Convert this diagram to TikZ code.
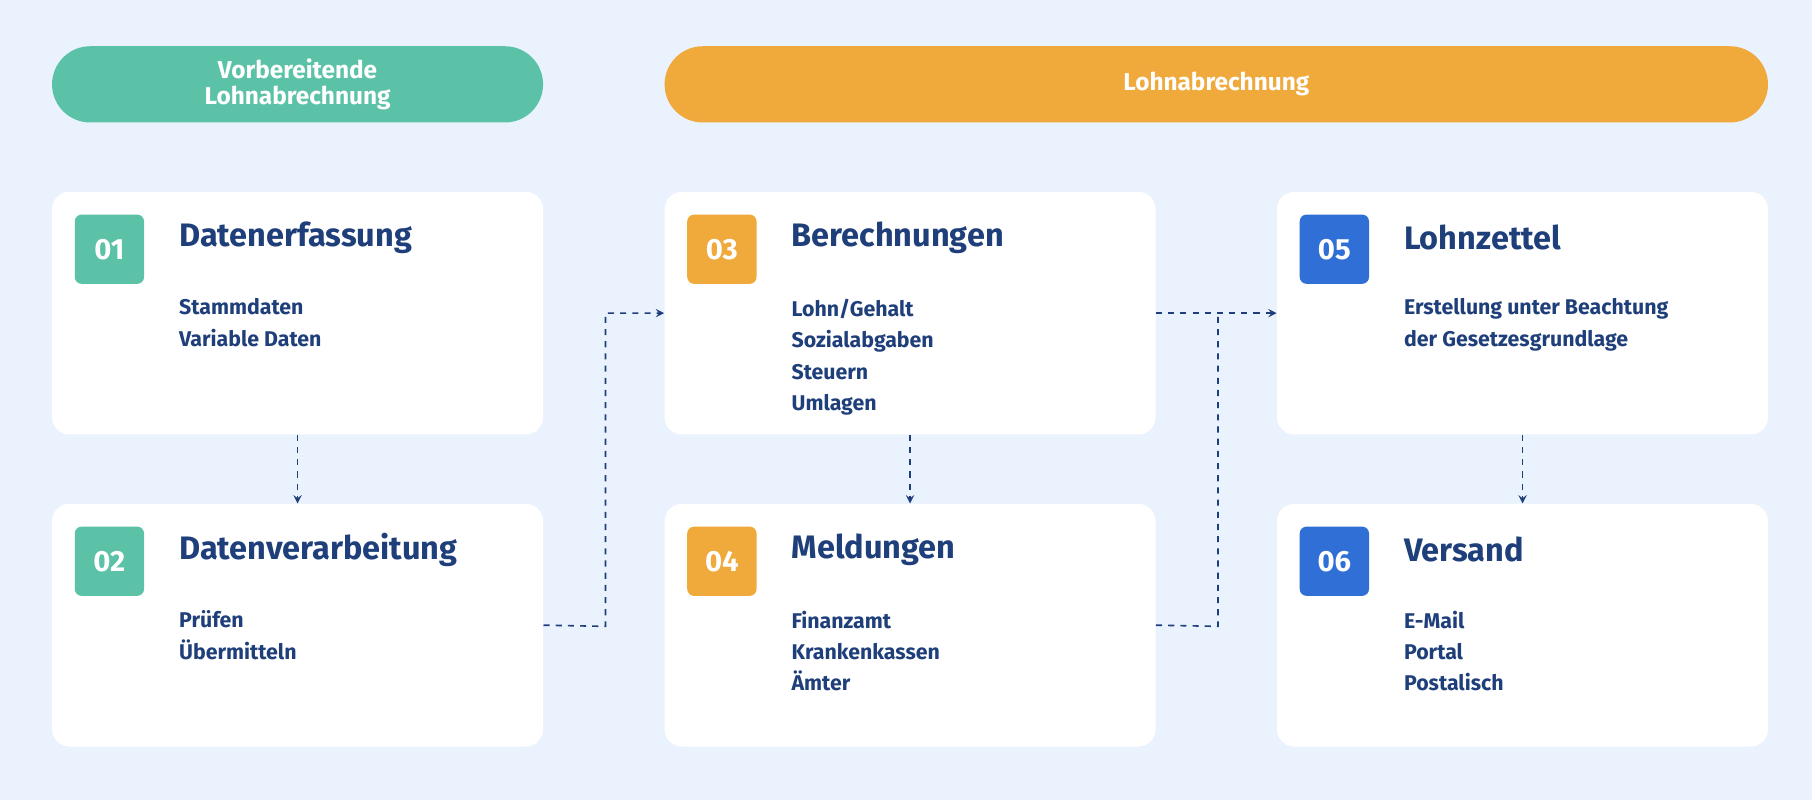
\documentclass[tikz,border=0pt]{standalone}
\usepackage{fontspec}
\setmainfont{Fira Sans}
\usetikzlibrary{positioning}
\definecolor{bgblue}{HTML}{EAF2FD}
\definecolor{mint}{HTML}{5BC2A7}
\definecolor{amber}{HTML}{F0A93B}
\definecolor{royal}{HTML}{2F6FD6}
\definecolor{navy}{HTML}{1F3F7A}
\tikzset{>=stealth,
  pill/.style={rounded corners=0.66cm, text=white, font=\bfseries\large, align=center, inner sep=0pt},
  card/.style={fill=white, rounded corners=0.3cm, minimum width=8.5cm, minimum height=4.2cm, inner sep=0pt},
  badge/.style={rounded corners=0.12cm, minimum size=1.2cm, text=white, font=\bfseries\Large, inner sep=0pt},
  heading/.style={anchor=west, text=navy, font=\bfseries\fontsize{16}{19}\selectfont, inner sep=0pt},
  items/.style={anchor=north west, text=navy, align=left, font=\fontsize{10.5}{15.5}\selectfont\bfseries, inner sep=0pt},
  flow/.style={->, dashed, navy, thick}}
\begin{document}
\begin{tikzpicture}[x=0.02cm, y=-0.02cm]
    \fill[bgblue] (0,0) rectangle (1568,692);
    \node[pill, fill=mint, minimum width=8.5cm, minimum height=1.32cm] (prep) at (257.5,73) {Vorbereitende\\[-1pt]Lohnabrechnung};
    \node[pill, fill=amber, minimum width=19.1cm, minimum height=1.32cm] (main) at (1052.5,73) {Lohnabrechnung};
    % cards: name/x/y/colour/number/title/items
    \foreach \n/\x/\y/\c/\num/\ttl/\txt in {
      c1/257.5/271/mint/01/Datenerfassung/{Stammdaten\\Variable Daten},
      c2/257.5/541/mint/02/Datenverarbeitung/{Prüfen\\Übermitteln},
      c3/787.5/271/amber/03/Berechnungen/{Lohn/Gehalt\\Sozialabgaben\\Steuern\\Umlagen},
      c4/787.5/541/amber/04/Meldungen/{Finanzamt\\Krankenkassen\\Ämter},
      c5/1317.5/271/royal/05/Lohnzettel/{Erstellung unter Beachtung\\der Gesetzesgrundlage},
      c6/1317.5/541/royal/06/Versand/{E-Mail\\Portal\\Postalisch}} {
      \node[card] (\n) at (\x,\y) {};
      \node[badge, fill=\c] (\n b) at ([xshift=1cm,yshift=-1cm]\n.north west) {\num};
      \node[heading] (\n t) at ([xshift=2.2cm,yshift=-0.8cm]\n.north west) {\ttl};
      \node[items] (\n i) at ([xshift=2.2cm,yshift=-1.85cm]\n.north west) {\txt};
    }
    \draw[flow] (c1) -- (c2);
    \draw[flow] (c3) -- (c4);
    \draw[flow] (c5) -- (c6);
    \coordinate (k1) at (524,542);
    \coordinate (k2) at (1054,542);
    \draw[flow] (c2.east) -- (k1) |- (c3.west);
    \draw[flow] (c3.east) -- (c5.west);
    \draw[dashed, navy, thick] (c4.east) -- (k2) -- (1054,271);
\end{tikzpicture}
\end{document}
